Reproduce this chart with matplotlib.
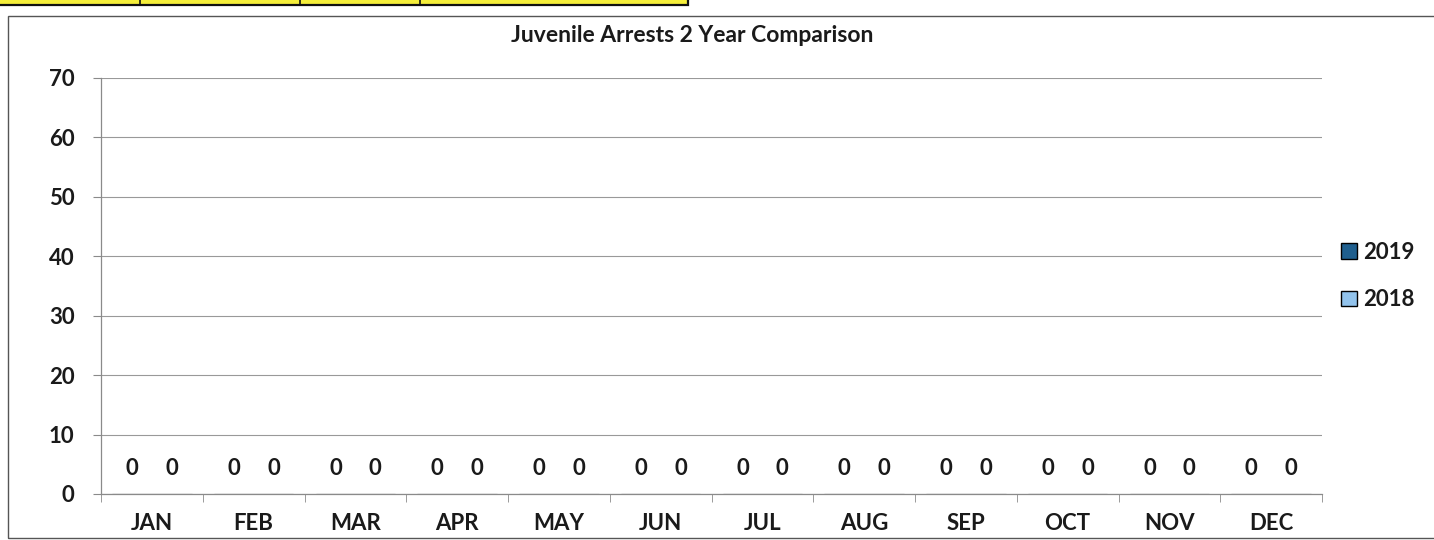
import matplotlib
matplotlib.use("Agg")
import matplotlib.pyplot as plt
from matplotlib.patches import Rectangle, Patch
import numpy as np

months = ["JAN", "FEB", "MAR", "APR", "MAY", "JUN", "JUL", "AUG", "SEP", "OCT", "NOV", "DEC"]
series_names = ["2019", "2018"]
values_2019 = [0, 0, 0, 0, 0, 0, 0, 0, 0, 0, 0, 0]
values_2018 = [0, 0, 0, 0, 0, 0, 0, 0, 0, 0, 0, 0]
yticks = [0, 10, 20, 30, 40, 50, 60, 70]
title = "Juvenile Arrests 2 Year Comparison"

col_2019 = "#1F5F8E"
col_2018 = "#92C3EC"
grid_col = "#8a8a8a"
txt_col = "#1a1a1a"

plt.rcParams['font.family'] = ['Lato', 'DejaVu Sans']

W, H = 1434, 540
fig = plt.figure(figsize=(W / 100, H / 100), dpi=100)

def fx(px):
    return px / W

def fy(py):
    return 1 - py / H

# scanned page fragments: yellow table strip and chart border
fig.patches.append(Rectangle((fx(-5), fy(4.5)), fx(693), 10 / H, transform=fig.transFigure,
                             facecolor="#F5EE3A", edgecolor="#111111", lw=1.6, zorder=0))
for xd in [140, 300, 420]:
    fig.lines.append(plt.Line2D([fx(xd), fx(xd)], [fy(0), fy(4.5)], transform=fig.transFigure,
                                color="#111111", lw=1.2))
fig.patches.append(Rectangle((fx(8), fy(538)), fx(1440), (538 - 16) / H, transform=fig.transFigure,
                             facecolor="none", edgecolor="#555555", lw=1.0, zorder=0))

left, right, top, bottom = 101, 1322, 77.5, 494
ax = fig.add_axes([fx(left), fy(bottom), fx(right - left), (bottom - top) / H])

x = np.arange(len(months))
w = 0.39
b1 = ax.bar(x - w / 2, values_2019, width=w, color=col_2019, edgecolor="black", lw=0.8, label=series_names[0])
b2 = ax.bar(x + w / 2, values_2018, width=w, color=col_2018, edgecolor="black", lw=0.8, label=series_names[1])
for bars in (b1, b2):
    ax.bar_label(bars, padding=11, fontsize=16, fontweight="bold", color=txt_col)

ax.set_xlim(-0.5, len(months) - 0.5)
ax.set_ylim(0, 70)
ax.set_yticks(yticks)
ax.set_yticklabels([str(t) for t in yticks], fontsize=16, fontweight="bold", color=txt_col)
ax.yaxis.grid(True, color="#999999", lw=0.8)
ax.set_axisbelow(True)
ax.tick_params(axis="y", length=6, color=grid_col, pad=13)

ax.set_xticks(x)
ax.set_xticklabels(months, fontsize=16, fontweight="bold", color=txt_col)
ax.tick_params(axis="x", length=0, pad=14)
ax.set_xticks(np.arange(-0.5, len(months), 1.0), minor=True)
ax.tick_params(axis="x", which="minor", length=6, color=grid_col)

for s in ["top", "right"]:
    ax.spines[s].set_visible(False)
for s in ["left", "bottom"]:
    ax.spines[s].set_color(grid_col)
    ax.spines[s].set_linewidth(0.9)

fig.text(fx(692), fy(35), title, ha="center", va="center", fontsize=16.5, fontweight="bold", color=txt_col)

handles = [Patch(facecolor=col_2019, edgecolor="black", lw=1.0),
           Patch(facecolor=col_2018, edgecolor="black", lw=1.0)]
leg = fig.legend(handles, series_names, loc="center left", bbox_to_anchor=(fx(1321), fy(276)),
                 frameon=False, handlelength=0.7, handleheight=0.7, handletextpad=0.3,
                 labelspacing=1.2, prop={"size": 16, "weight": "bold"})
for t in leg.get_texts():
    t.set_color(txt_col)

fig.savefig("out.png", dpi=100)
